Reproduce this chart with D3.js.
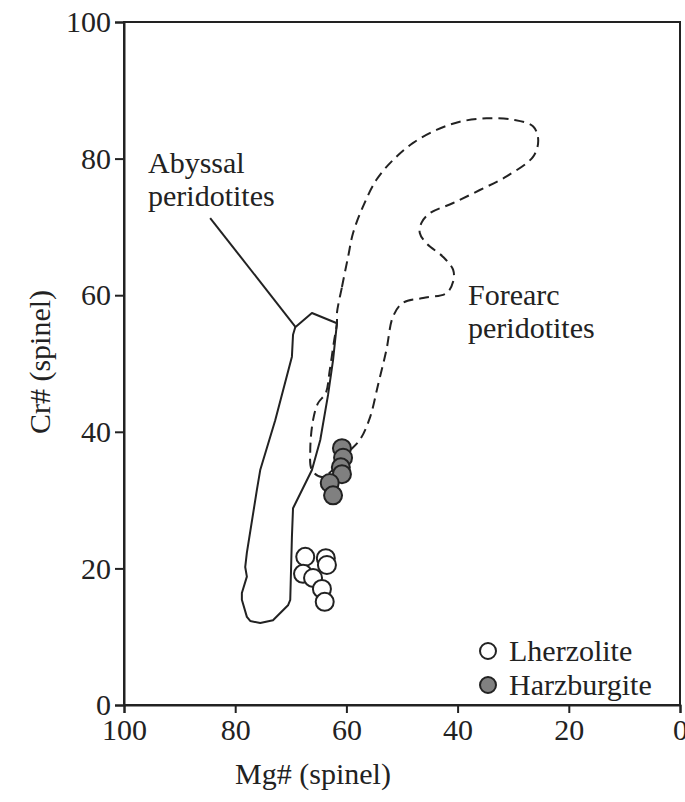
<!DOCTYPE html>
<html>
<head>
<meta charset="utf-8">
<script src="https://cdn.jsdelivr.net/npm/d3@7"></script>
<style>
  body { margin: 0; background: #fff; }
  svg text { font-family: "Liberation Serif", "Times New Roman", serif; fill: #222; }
</style>
</head>
<body>
<div id="chart"></div>
<script>
// Spinel Mg# vs Cr# (x axis reversed)
var xTicks = [100, 80, 60, 40, 20, 0];
var yTicks = [0, 20, 40, 60, 80, 100];

// Lherzolite samples [Mg#, Cr#]
var lherzolite = [
    [67.4, 21.7], [63.7, 21.5], [63.5, 20.5], [67.8, 19.2],
    [66.0, 18.6], [64.4, 17.0], [63.9, 15.1]
];
// Harzburgite samples [Mg#, Cr#]
var harzburgite = [
    [60.8, 37.6], [60.6, 36.2], [61.0, 34.8], [60.8, 33.8],
    [63.0, 32.5], [62.4, 30.7]
];

// Abyssal peridotite field outline
var abyssalField = [
    [69.2, 55.3], [66.2, 57.4], [61.7, 55.9], [62.4, 50.5], [63.3, 45.4],
    [64.7, 38.8], [66.2, 34.4], [69.6, 28.8], [69.8, 24.6], [70.1, 15.4],
    [70.5, 14.6], [73.2, 12.4], [75.5, 12.0], [77.3, 12.3], [77.9, 12.9],
    [78.8, 15.4], [78.8, 16.4], [77.9, 18.8], [78.2, 20.2], [77.9, 22.3],
    [76.1, 31.5], [75.5, 34.4], [72.8, 41.7], [69.8, 51.0], [69.6, 54.2]
];

// Forearc peridotite field outline
var forearcField = [
    [61.7, 57.4], [60.8, 61.2], [59.7, 65.6], [58.8, 69.1], [57.0, 73.0],
    [54.6, 76.9], [51.6, 79.8], [48.0, 82.3], [43.8, 84.2], [39.6, 85.4],
    [34.8, 85.9], [30.0, 85.7], [26.4, 84.7], [25.5, 82.7], [26.4, 80.3],
    [31.2, 77.4], [36.0, 75.4], [40.8, 73.5], [45.0, 72.0], [46.5, 70.6],
    [46.8, 69.1], [45.6, 67.6], [42.6, 65.6], [40.8, 63.7], [40.8, 62.0],
    [42.0, 60.3], [46.2, 59.6], [49.8, 58.9], [51.6, 56.9], [52.8, 52.0],
    [54.3, 46.9], [55.8, 42.0], [57.6, 38.8], [59.7, 37.0], [62.1, 34.7],
    [64.4, 33.4], [66.2, 34.4], [66.5, 37.3], [66.0, 41.7], [65.1, 44.2],
    [63.7, 45.7], [63.0, 49.0], [62.2, 53.4], [61.7, 55.9]
];

var leader = [[84.5, 71.3], [69.1, 55.3]];

var width = 685, height = 802;
var plotLeft = 124, plotRight = 680, plotTop = 22, plotBottom = 705;

var x = d3.scaleLinear().domain([100, 0]).range([plotLeft, plotRight]);
var y = d3.scaleLinear().domain([0, 100]).range([plotBottom, plotTop]);

var svg = d3.select('#chart')
    .append('svg')
    .attr('width', width)
    .attr('height', height);

// Frame
svg.append('rect')
    .attr('x', plotLeft)
    .attr('y', plotTop)
    .attr('width', plotRight - plotLeft)
    .attr('height', plotBottom - plotTop)
    .attr('fill', 'none')
    .attr('stroke', '#222')
    .attr('stroke-width', 2);

// Axes
var xAxis = svg.append('g')
    .attr('transform', 'translate(0,' + plotBottom + ')')
    .call(d3.axisBottom(x).tickValues(xTicks).tickSize(8).tickPadding(6));
var yAxis = svg.append('g')
    .attr('transform', 'translate(' + plotLeft + ',0)')
    .call(d3.axisLeft(y).tickValues(yTicks).tickSize(9).tickPadding(4));

[xAxis, yAxis].forEach(function (a) {
    a.select('.domain').attr('stroke', '#222').attr('stroke-width', 2);
    a.selectAll('.tick line').attr('stroke', '#222').attr('stroke-width', 2);
    a.selectAll('.tick text')
        .style('font-family', '"Liberation Serif", serif')
        .style('font-size', '30px')
        .attr('fill', '#222');
});

// Axis titles
svg.append('text')
    .attr('x', 313)
    .attr('y', 784)
    .attr('text-anchor', 'middle')
    .style('font-size', '30px')
    .text('Mg# (spinel)');

svg.append('text')
    .attr('transform', 'translate(50,362) rotate(-90)')
    .attr('text-anchor', 'middle')
    .style('font-size', '30px')
    .text('Cr# (spinel)');

var line = d3.line().x(d => x(d[0])).y(d => y(d[1]));

// Forearc field (dashed)
svg.append('path')
    .attr('d', line.curve(d3.curveCatmullRomClosed.alpha(0.5))(forearcField))
    .attr('fill', 'none')
    .attr('stroke', '#222')
    .attr('stroke-width', 2)
    .attr('stroke-dasharray', '10,6');

// Abyssal field (solid)
svg.append('path')
    .attr('d', line.curve(d3.curveLinearClosed)(abyssalField))
    .attr('fill', 'none')
    .attr('stroke', '#222')
    .attr('stroke-width', 2)
    .attr('stroke-linejoin', 'round');

svg.append('path')
    .attr('d', line.curve(d3.curveLinear)(leader))
    .attr('fill', 'none')
    .attr('stroke', '#222')
    .attr('stroke-width', 2);

// Field labels
var labels = [
    { lines: ['Abyssal', 'peridotites'], x: 148, y: 173 },
    { lines: ['Forearc', 'peridotites'], x: 468, y: 305 }
];
labels.forEach(function (l) {
    var t = svg.append('text')
        .attr('x', l.x)
        .attr('y', l.y)
        .style('font-size', '30px');
    l.lines.forEach(function (s, i) {
        t.append('tspan')
            .attr('x', l.x)
            .attr('dy', i === 0 ? 0 : 33)
            .text(s);
    });
});

// Samples
svg.append('g').selectAll('circle')
    .data(lherzolite)
    .enter()
    .append('circle')
    .attr('cx', d => x(d[0]))
    .attr('cy', d => y(d[1]))
    .attr('r', 9)
    .attr('fill', '#fff')
    .attr('stroke', '#222')
    .attr('stroke-width', 2);

svg.append('g').selectAll('circle')
    .data(harzburgite)
    .enter()
    .append('circle')
    .attr('cx', d => x(d[0]))
    .attr('cy', d => y(d[1]))
    .attr('r', 9)
    .attr('fill', '#808080')
    .attr('stroke', '#222')
    .attr('stroke-width', 2);

// Legend
var legendItems = [
    { name: 'Lherzolite', fill: '#fff' },
    { name: 'Harzburgite', fill: '#808080' }
];
var legend = svg.append('g').attr('transform', 'translate(488,651)');
legend.selectAll('circle')
    .data(legendItems)
    .enter()
    .append('circle')
    .attr('cx', 0)
    .attr('cy', (d, i) => i * 34)
    .attr('r', 8)
    .attr('fill', d => d.fill)
    .attr('stroke', '#222')
    .attr('stroke-width', 2);
legend.selectAll('text')
    .data(legendItems)
    .enter()
    .append('text')
    .attr('x', 21)
    .attr('y', (d, i) => i * 34 + 10)
    .style('font-size', '30px')
    .text(d => d.name);
</script>
</body>
</html>
